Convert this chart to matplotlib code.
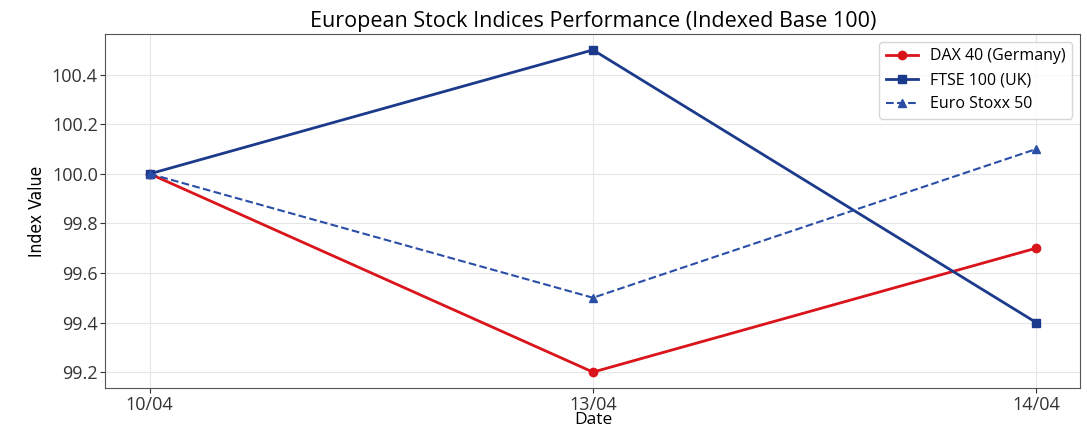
import matplotlib
matplotlib.use("Agg")
import matplotlib.pyplot as plt

# datos
fechas = ["10/04", "13/04", "14/04"]
dax = [100.0, 99.2, 99.7]
ftse = [100.0, 100.5, 99.4]
stoxx = [100.0, 99.5, 100.1]

plt.rcParams['font.family'] = ['Open Sans', 'DejaVu Sans']

fig = plt.figure(figsize=(10.87, 4.28), dpi=100)
ax = fig.add_axes([0.097, 0.093, 0.897, 0.828])

x = range(len(fechas))
ax.plot(x, dax, color="#d9141b", marker="o", linewidth=2, markersize=6, label="DAX 40 (Germany)")
ax.plot(x, ftse, color="#1c3a8c", marker="s", linewidth=2, markersize=6, label="FTSE 100 (UK)")
ax.plot(x, stoxx, color="#2a4ea6", marker="^", linestyle="--", linewidth=1.5, markersize=6, label="Euro Stoxx 50")

ax.set_xticks(list(x))
ax.set_xticklabels(fechas)
ax.set_yticks([99.2, 99.4, 99.6, 99.8, 100.0, 100.2, 100.4])
ax.tick_params(labelsize=13, colors="#333333", pad=2)
ax.set_title("European Stock Indices Performance (Indexed Base 100)", fontsize=15.5, pad=5)
ax.set_xlabel("Date", fontsize=12.5, labelpad=-1)
ax.set_ylabel("Index Value", fontsize=12.5, family="DejaVu Sans", fontstretch="condensed")
ax.grid(True, color="#e6e6e6", linewidth=0.8)
for s in ax.spines.values():
    s.set_color("#555555")
ax.legend(loc="upper right", fontsize=11.5)

fig.savefig("out.png", dpi=100)
